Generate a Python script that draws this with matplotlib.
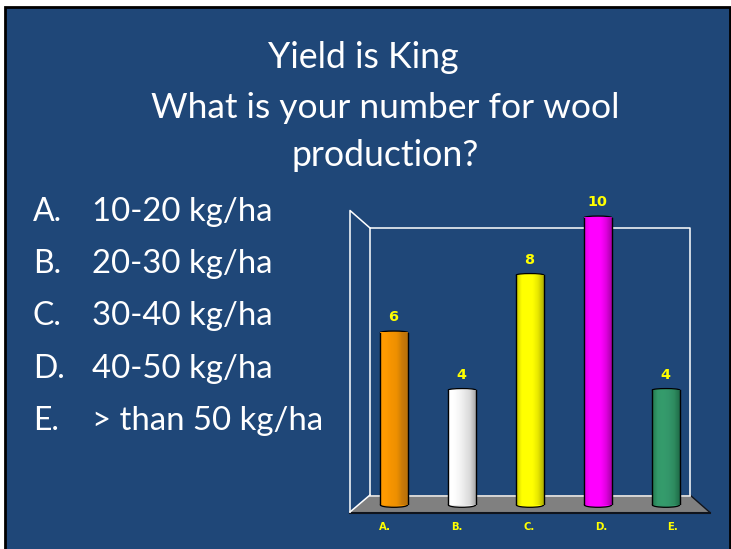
"""Yield is King slide: 3D-look cylinder poll chart on a blue slide."""
import numpy as np
import matplotlib
matplotlib.use("Agg")
import matplotlib.pyplot as plt
from matplotlib.colors import LinearSegmentedColormap
from matplotlib.patches import Ellipse, Polygon, Rectangle

W, H = 731, 549
BLUE = "#1f4778"
YEL = "#ffff00"

title = "Yield is King"
subtitle = ["What is your number for wool", "production?"]
letters = ["A.", "B.", "C.", "D.", "E."]
options = ["10-20 kg/ha", "20-30 kg/ha", "30-40 kg/ha", "40-50 kg/ha", "> than 50 kg/ha"]
votes = [6, 4, 8, 10, 4]
# left to right shades of each cylinder
shades = [
    ["#ff9a00", "#ff9a00", "#f59400", "#ee9000", "#c97a08", "#b8700a"],
    ["#ffffff", "#ffffff", "#f6f6f6", "#e8e8e8", "#d8d8d8", "#a8a8a8"],
    ["#c8c800", "#ffff00", "#ffff00", "#ffff00", "#e6e600", "#b0b000"],
    ["#e000e0", "#ff00ff", "#ff00ff", "#ff00ff", "#e000e0", "#a800a8"],
    ["#24794f", "#33996a", "#359c6c", "#33966a", "#2e8b5f", "#1f6b48"],
]

fig = plt.figure(figsize=(W / 100, H / 100), dpi=100, facecolor="white")
plt.rcParams["font.family"] = ["Lato", "DejaVu Sans"]


def px_axes(x0, x1, y_top, y_bot):
    return fig.add_axes([x0 / W, 1 - y_bot / H, (x1 - x0) / W, (y_bot - y_top) / H])


# slide background + wall frame, in pixel coordinates
bg = px_axes(0, W, 0, H)
bg.set_xlim(0, W); bg.set_ylim(H, 0); bg.axis("off")
bg.add_patch(Rectangle((5, 7), W - 6, H, fc=BLUE, ec="black", lw=2))
bg.add_patch(Polygon([(370, 495), (690, 495), (710, 512), (350, 512)], fc="#808080", ec="none"))
bg.plot([350, 710], [512.5, 512.5], color="#10141c", lw=1.5)
bg.plot([690, 710], [495, 512.5], color="#10141c", lw=1)
bg.plot([370, 690], [495.5, 495.5], color="#e4e4e4", lw=1.2)
bg.plot([370, 370, 690, 690], [495, 228, 228, 495], color="white", lw=1.1)
bg.plot([350, 350, 370], [512, 210.5, 228], color="white", lw=1.1)
bg.plot([350, 370], [512, 495], color="white", lw=1.1)

bg.text(363, 58, title, color="white", fontsize=25.7, ha="center", va="center")
bg.text(385, 108, subtitle[0], color="white", fontsize=25.5, ha="center", va="center")
bg.text(385, 155, subtitle[1], color="white", fontsize=25.7, ha="center", va="center")
for i, (let, opt) in enumerate(zip(letters, options)):
    y = 212 + i * 52.2
    bg.text(33, y, let, color="white", fontsize=23, ha="left", va="center")
    bg.text(92, y, opt, color="white", fontsize=23.7, ha="left", va="center")

# cylinders: value axis is 28.75 px per vote with zero at y=505
ax = px_axes(360, 700, 505 - 28.75 * 11, 505)
ax.patch.set_alpha(0)
ax.set_xlim(-0.5, 4.5); ax.set_ylim(0, 11)
ax.axis("off")
bw = 0.4
for i, v in enumerate(votes):
    cmap = LinearSegmentedColormap.from_list(f"c{i}", shades[i])
    ax.add_patch(Ellipse((i, 0), bw, 0.16, fc=shades[i][3], ec="black", lw=0.9, zorder=2, clip_on=False))
    ax.add_patch(Ellipse((i, v), bw, 0.1, fc=shades[i][2], ec="black", lw=0.9, zorder=2))
    ax.bar(i, v, bw, color="none", edgecolor="none", zorder=3)
    ax.imshow(np.linspace(0, 1, 64)[None, :], cmap=cmap, aspect="auto", zorder=3,
              extent=(i - bw / 2, i + bw / 2, 0, v))
    ax.plot([i - bw / 2, i - bw / 2], [0, v], color="black", lw=1, zorder=4)
    ax.plot([i + bw / 2, i + bw / 2], [0, v], color="black", lw=1, zorder=4)
    ax.annotate(str(v), (i, v), xytext=(-0.7, 11), textcoords="offset points", ha="center", va="center",
                color=YEL, fontsize=10.4, fontweight="bold", family="DejaVu Sans", zorder=5)
ax.set_xlim(-0.5, 4.5); ax.set_ylim(0, 11)

# category axis spans the floor's front edge
cat = px_axes(349, 709, 505, 512)
cat.patch.set_alpha(0)
cat.set_xlim(-0.5, 4.5); cat.set_yticks([])
cat.set_xticks(range(len(letters)), letters)
cat.tick_params(axis="x", length=0, pad=7.5, colors=YEL, labelsize=7.3)
for lab in cat.get_xticklabels():
    lab.set_fontweight("bold"); lab.set_family("DejaVu Sans")
for s in cat.spines.values():
    s.set_visible(False)

fig.savefig("out.png", dpi=100, facecolor="white")
